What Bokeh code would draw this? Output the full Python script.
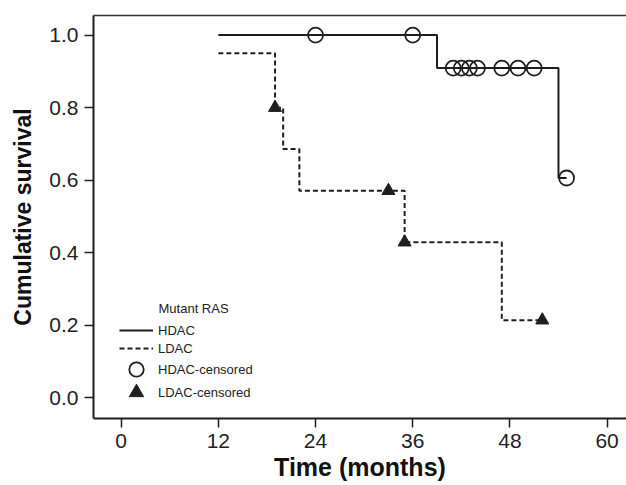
from bokeh.plotting import figure
from bokeh.models import Range1d, LinearAxis, FixedTicker, Legend, LegendItem, Label
from bokeh.embed import file_html
from bokeh.resources import INLINE

# HDAC Kaplan-Meier step curve
hdac_time = [12, 39, 54, 55]
hdac_surv = [1.0, 0.909, 0.606, 0.606]
# HDAC censored marks
hdac_cens_time = [24, 36, 41, 42, 43, 44, 47, 49, 51, 55]
hdac_cens_surv = [1.0, 1.0, 0.909, 0.909, 0.909, 0.909, 0.909, 0.909, 0.909, 0.606]

# LDAC Kaplan-Meier step curve
ldac_time = [12, 19, 20, 22, 35, 47, 52]
ldac_surv = [0.95, 0.80, 0.686, 0.571, 0.429, 0.214, 0.214]
# LDAC censored marks
ldac_cens_time = [19, 33, 35, 52]
ldac_cens_surv = [0.80, 0.571, 0.429, 0.214]

x_ticks = [0, 12, 24, 36, 48, 60]
y_ticks = [0.0, 0.2, 0.4, 0.6, 0.8, 1.0]
y_tick_labels = {0.0: "0.0", 0.2: "0.2", 0.4: "0.4", 0.6: "0.6", 0.8: "0.8", 1.0: "1.0"}

FONT = "Liberation Sans"
INK = "#1e1e1e"

p = figure(width=626, height=485, output_backend="svg", toolbar_location=None,
           x_range=Range1d(-3.42, 62.4), y_range=Range1d(-0.057, 1.054),
           min_border_left=93, min_border_right=0, min_border_top=15, min_border_bottom=67)
p.outline_line_color = None
p.grid.visible = False
p.background_fill_color = "white"
p.border_fill_color = "white"

hl = p.step(hdac_time, hdac_surv, mode="after", line_color=INK, line_width=2)
ll = p.step(ldac_time, ldac_surv, mode="after", line_color=INK, line_width=2, line_dash="5 3")
hc = p.scatter(hdac_cens_time, hdac_cens_surv, marker="circle", size=15, fill_color=None,
               line_color=INK, line_width=1.8)
lc = p.scatter(ldac_cens_time, ldac_cens_surv, marker="triangle", size=13, fill_color=INK,
               line_color=INK, line_width=1)

# axes
xa = p.xaxis[0]
xa.ticker = FixedTicker(ticks=x_ticks)
xa.axis_label = "Time (months)"
ya = p.yaxis[0]
ya.ticker = FixedTicker(ticks=y_ticks)
ya.major_label_overrides = y_tick_labels
ya.axis_label = "Cumulative survival"
for ax in (xa, ya):
    ax.axis_line_color = INK
    ax.axis_line_width = 2
    ax.major_tick_line_color = INK
    ax.major_tick_line_width = 1.5
    ax.major_tick_out = 9
    ax.major_tick_in = 0
    ax.minor_tick_line_color = None
    ax.major_label_text_font = FONT
    ax.major_label_text_font_size = "21px"
    ax.major_label_text_color = "#222222"
    ax.axis_label_text_font = FONT
    ax.axis_label_text_font_style = "bold"
    ax.axis_label_text_color = "#111111"
xa.axis_label_text_font_size = "25px"
ya.axis_label_text_font_size = "23px"
xa.major_label_standoff = 6
xa.axis_label_standoff = 2
ya.major_label_standoff = 6
ya.axis_label_standoff = 10

top = LinearAxis(ticker=FixedTicker(ticks=[]), axis_line_color="#333333", axis_line_width=1.5,
                 major_tick_line_color=None, minor_tick_line_color=None)
p.add_layout(top, "above")

common = dict(padding=0, margin=0, spacing=0, border_line_color=None,
              background_fill_alpha=0, label_text_font=FONT, label_text_font_size="13px",
              label_text_color="#222222")

line_legend = Legend(items=[
    LegendItem(label="HDAC", renderers=[hl]),
    LegendItem(label="LDAC", renderers=[ll]),
], location=(26, 61), glyph_width=34, glyph_height=18, label_height=18, label_standoff=5,
    **common)
p.add_layout(line_legend)

circle_legend = Legend(items=[LegendItem(label="HDAC-censored", renderers=[hc])],
                       location=(25, 31), glyph_width=36, glyph_height=36, label_height=36,
                       label_standoff=4, **common)
p.add_layout(circle_legend)

triangle_legend = Legend(items=[LegendItem(label="LDAC-censored", renderers=[lc])],
                         location=(25, 8), glyph_width=36, glyph_height=36, label_height=36,
                         label_standoff=4, **common)
p.add_layout(triangle_legend)

p.add_layout(Label(x=65, y=110, x_units="screen", y_units="screen", text="Mutant RAS",
                   text_font=FONT, text_font_size="13px", text_color="#222222",
                   text_baseline="middle", text_align="left"))

open("out.html", "w").write(file_html(p, INLINE))
